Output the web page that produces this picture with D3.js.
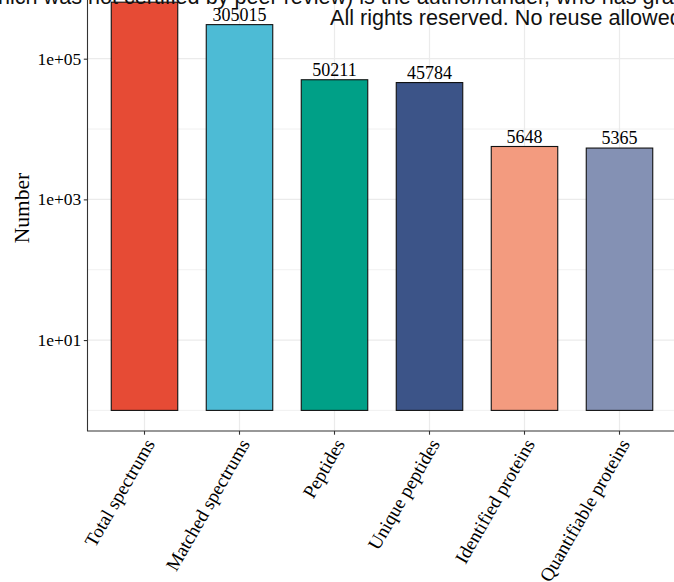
<!DOCTYPE html>
<html><head><meta charset="utf-8">
<script src="https://cdn.jsdelivr.net/npm/d3@7"></script>
<style>body{margin:0;background:#fff;overflow:hidden}</style></head>
<body>
<svg id="c" width="674" height="582"></svg>
<script>
const categories = ["Total spectrums","Matched spectrums","Peptides","Unique peptides","Identified proteins","Quantifiable proteins"];
const values = [636000, 305015, 50211, 45784, 5648, 5365];
const valueLabels = ["636000","305015","50211","45784","5648","5365"];
const colors = ["#E64B35","#4DBBD5","#00A087","#3C5488","#F39B7F","#8491B4"];
const yTicks = [1e1, 1e3, 1e5];
const yTickLabels = ["1e+01","1e+03","1e+05"];
const yMinor = [1e0, 1e2, 1e4, 1e6];
const watermark1 = "(which was not certified by peer review) is the author/funder, who has granted bioRxiv a license to display the preprint in perpetuity.";
const watermark2 = "All rights reserved. No reuse allowed without permission.";

const svg = d3.select("#c");
const L = 87.5, R = 676.5, B = 431, T = -30;
const serif = "'Liberation Serif','Times New Roman',serif";

const x = d3.scaleBand().domain(categories).range([L, R]).paddingInner(0.3).paddingOuter(0.25);
const y = d3.scaleLog().domain([1, 1e5]).range([410.4, 58.7]);

// background gridlines
const g = svg.append("g");
g.selectAll(".ymin").data(yMinor).join("line")
  .attr("x1", L).attr("x2", R).attr("y1", d => y(d)).attr("y2", d => y(d))
  .attr("stroke", "#EBEBEB").attr("stroke-width", 0.7);
g.selectAll(".ymaj").data(yTicks).join("line")
  .attr("x1", L).attr("x2", R).attr("y1", d => y(d)).attr("y2", d => y(d))
  .attr("stroke", "#EBEBEB").attr("stroke-width", 1.2);
g.selectAll(".xmaj").data(categories).join("line")
  .attr("x1", d => x(d) + x.bandwidth()/2).attr("x2", d => x(d) + x.bandwidth()/2)
  .attr("y1", T).attr("y2", B)
  .attr("stroke", "#EBEBEB").attr("stroke-width", 1.2);

// bars
svg.selectAll(".bar").data(values).join("rect")
  .attr("x", (d,i) => x(categories[i]))
  .attr("width", x.bandwidth())
  .attr("y", d => y(d))
  .attr("height", d => y(1) - y(d))
  .attr("fill", (d,i) => colors[i])
  .attr("stroke", "#111").attr("stroke-width", 1.1);

// value labels
svg.selectAll(".vl").data(values).join("text")
  .attr("x", (d,i) => x(categories[i]) + x.bandwidth()/2)
  .attr("y", d => y(d) - 3.6)
  .attr("text-anchor", "middle")
  .attr("font-family", serif).attr("font-size", 18).attr("fill", "#000")
  .text((d,i) => valueLabels[i]);

// y axis
const ya = svg.append("g").attr("transform", `translate(${L},0)`)
  .call(d3.axisLeft(y).tickValues(yTicks).tickFormat((d,i) => yTickLabels[i]).tickSize(3.7).tickPadding(2.5));
ya.select(".domain").remove();
ya.selectAll(".tick line").attr("stroke", "#333").attr("stroke-width", 1.1);
ya.selectAll(".tick text").attr("font-family", serif).attr("font-size", 17.5).attr("fill", "#000");

// x axis
const xa = svg.append("g").attr("transform", `translate(0,${B})`)
  .call(d3.axisBottom(x).tickSize(3.7).tickSizeOuter(0));
xa.select(".domain").remove();
xa.selectAll(".tick line").attr("stroke", "#333").attr("stroke-width", 1.1);
xa.selectAll(".tick text")
  .attr("font-family", serif).attr("font-size", 19).attr("fill", "#000")
  .attr("text-anchor", "end")
  .attr("x", 0).attr("y", 0).attr("dy", "0.72em")
  .attr("transform", "translate(-1,6) rotate(-60)");

// axis lines
svg.append("line").attr("x1", L).attr("x2", L).attr("y1", T).attr("y2", B)
  .attr("stroke", "#333").attr("stroke-width", 1.1);
svg.append("line").attr("x1", L - 0.55).attr("x2", R).attr("y1", B).attr("y2", B)
  .attr("stroke", "#333").attr("stroke-width", 1.1);

// y title
svg.append("text")
  .attr("transform", `translate(29,208) rotate(-90)`)
  .attr("text-anchor", "middle")
  .attr("font-family", serif).attr("font-size", 21.5).attr("fill", "#000")
  .text("Number");

// watermark
const sans = "'Liberation Sans',Arial,sans-serif";
const wfs = 21.6;
const tmp = svg.append("text").attr("font-family", sans).attr("font-size", wfs).text("(w");
const off = tmp.node().getComputedTextLength();
tmp.remove();
svg.append("text").attr("x", -2 - off).attr("y", 3.5)
  .attr("font-family", sans).attr("font-size", wfs).attr("fill", "#111")
  .text(watermark1);
svg.append("text").attr("x", 330).attr("y", 25)
  .attr("font-family", sans).attr("font-size", wfs).attr("fill", "#111")
  .text(watermark2);
</script>
</body></html>
